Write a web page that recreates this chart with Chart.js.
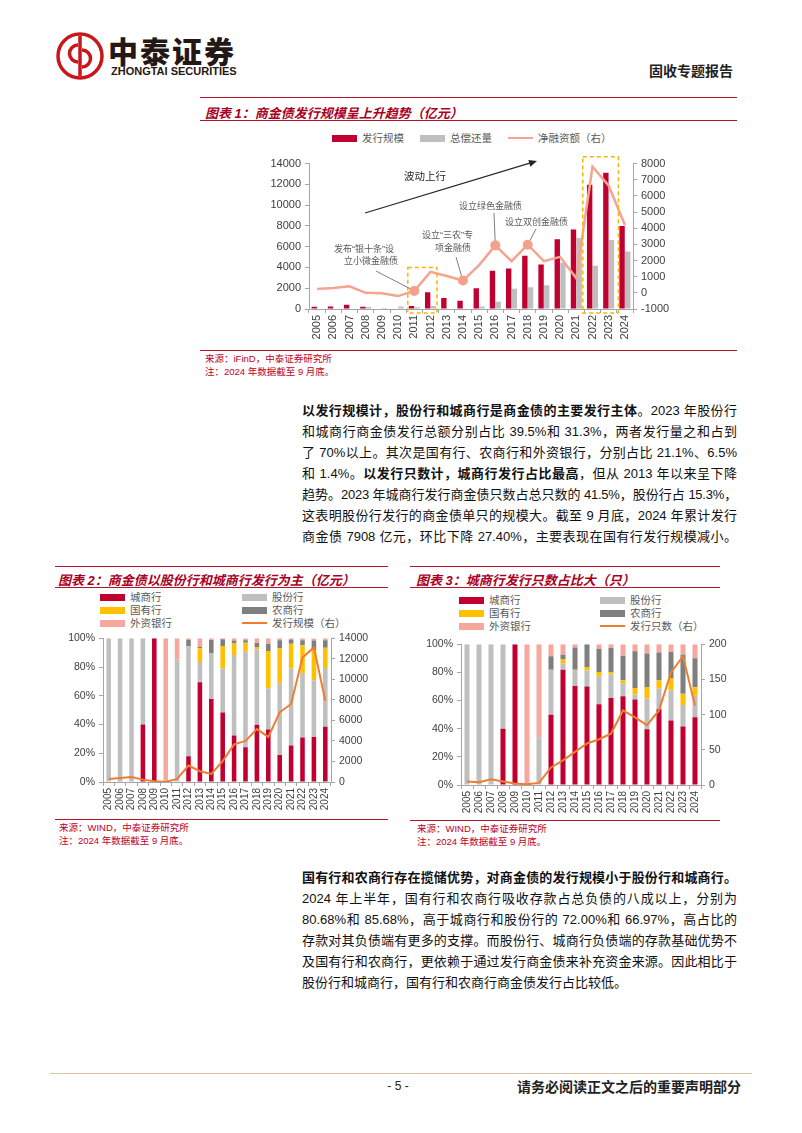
<!DOCTYPE html>
<html>
<head>
<meta charset="utf-8">
<script src="https://cdn.jsdelivr.net/npm/chart.js@4.4.1/dist/chart.umd.min.js"></script>
<style>
  body { margin: 0; background: #fff; }
  #page { position: relative; width: 802px; height: 1133px; overflow: hidden; background: #fff;
          font-family: "Liberation Sans", "Noto Sans CJK SC", sans-serif; color: #111; }
  .rule { position: absolute; height: 0; border-top: 1.5px solid #B4152B; }
  .ttl { position: absolute; font-size: 13px; font-weight: bold; font-style: italic; color: #A8001E;
         white-space: nowrap; font-family: "Liberation Sans", "Noto Sans CJK SC", sans-serif; }
  .src { position: absolute; font-size: 9.5px; line-height: 13px; color: #C0001C; white-space: nowrap; }
  .leg { position: absolute; font-size: 10.5px; line-height: 13px; color: #595959; white-space: nowrap; }
  .leg i { display: inline-block; width: 25px; height: 7px; vertical-align: middle; margin-right: 5px; margin-top: -2px; }
  .leg i.ln { height: 2.5px; }
  .note { position: absolute; font-size: 9px; line-height: 12px; color: #595959; white-space: nowrap; }
  .para { position: absolute; left: 302px; width: 435px; font-size: 13px; line-height: 21px; color: #111; }
  .para div { text-align: justify; text-align-last: justify; }
  .para div.last { text-align-last: left; }
  .para div.tight { letter-spacing: -0.25px; }
  .para b { font-weight: 700; }
  canvas { position: absolute; }
</style>
</head>
<body>
<div id="page">

  <!-- header -->
  <svg style="position:absolute;left:55px;top:31px" width="50" height="50" viewBox="0 0 50 50">
    <circle cx="25" cy="25" r="22" fill="none" stroke="#C8161D" stroke-width="3.5"/>
    <path d="M25 5 V45" stroke="#C8161D" stroke-width="3.5"/>
    <path d="M23 14 A8.5 8.5 0 1 0 23 31" fill="none" stroke="#C8161D" stroke-width="3.5"/>
    <path d="M27 19 A8.5 8.5 0 1 1 27 36" fill="none" stroke="#C8161D" stroke-width="3.5"/>
  </svg>
  <div style="position:absolute;left:108px;top:33px;font-size:30px;line-height:34px;font-weight:900;letter-spacing:2px;color:#231815;font-family:'Noto Sans CJK SC'">中泰证券</div>
  <div style="position:absolute;left:111px;top:65px;font-size:11px;line-height:12px;font-weight:bold;color:#231815;font-family:'Liberation Sans Narrow','Liberation Sans';white-space:nowrap">ZHONGTAI SECURITIES</div>
  <div style="position:absolute;left:649px;top:61px;font-size:14px;line-height:18px;font-weight:bold;color:#222;font-family:'Noto Sans CJK SC'">固收专题报告</div>

  <!-- chart 1 -->
  <div class="rule" style="left:200px;top:97px;width:537px"></div>
  <div class="ttl" style="left:205px;top:103px">图表 1：商金债发行规模呈上升趋势（亿元）</div>
  <div class="rule" style="left:200px;top:120px;width:537px;border-top-width:1px"></div>
  <div class="leg" style="left:332px;top:132px"><i style="background:#C00030"></i>发行规模</div>
  <div class="leg" style="left:420px;top:132px"><i style="background:#BFBFBF"></i>总偿还量</div>
  <div class="leg" style="left:508px;top:132px"><i class="ln" style="background:#F4A491"></i>净融资额（右）</div>
  <canvas id="c1" width="423" height="188" style="left:250px;top:153px;width:423px;height:188px"></canvas>
  <div class="note" style="left:404px;top:170px;font-size:10.5px;color:#262626">波动上行</div>
  <div class="note" style="left:334px;top:243px">发布“银十条”设</div>
  <div class="note" style="left:344px;top:255px">立小微金融债</div>
  <div class="note" style="left:422px;top:229px">设立“三农”专</div>
  <div class="note" style="left:435px;top:242px">项金融债</div>
  <div class="note" style="left:459px;top:200px">设立绿色金融债</div>
  <div class="note" style="left:505px;top:216px">设立双创金融债</div>
  <div class="rule" style="left:200px;top:350px;width:537px;border-top-width:1px"></div>
  <div class="src" style="left:205px;top:352px">来源：iFinD，中泰证券研究所</div>
  <div class="src" style="left:205px;top:365px">注：2024 年数据截至 9 月底。</div>

  <div class="para" style="top:400px">
    <div><b>以发行规模计，股份行和城商行是商金债的主要发行主体</b>。2023 年股份行</div>
    <div>和城商行商金债发行总额分别占比 39.5%和 31.3%，两者发行量之和占到</div>
    <div>了 70%以上。其次是国有行、农商行和外资银行，分别占比 21.1%、6.5%</div>
    <div>和 1.4%。<b>以发行只数计，城商行发行占比最高</b>，但从 2013 年以来呈下降</div>
    <div class="tight">趋势。2023 年城商行发行商金债只数占总只数的 41.5%，股份行占 15.3%，</div>
    <div>这表明股份行发行的商金债单只的规模大。截至 9 月底，2024 年累计发行</div>
    <div>商金债 7908 亿元，环比下降 27.40%，主要表现在国有行发行规模减小。</div>
  </div>

  <!-- chart 2 -->
  <div class="rule" style="left:55px;top:566px;width:333px"></div>
  <div class="ttl" style="left:58px;top:570px">图表 2：商金债以股份行和城商行发行为主（亿元）</div>
  <div class="rule" style="left:55px;top:587px;width:333px;border-top-width:1px"></div>
  <div class="leg" style="left:100px;top:591px"><i style="background:#C00030"></i>城商行</div>
  <div class="leg" style="left:100px;top:604px"><i style="background:#FFC000"></i>国有行</div>
  <div class="leg" style="left:100px;top:617px"><i style="background:#F6A89E"></i>外资银行</div>
  <div class="leg" style="left:242px;top:591px"><i style="background:#BFBFBF"></i>股份行</div>
  <div class="leg" style="left:242px;top:604px"><i style="background:#7F7F7F"></i>农商行</div>
  <div class="leg" style="left:242px;top:617px"><i class="ln" style="background:#ED7D31"></i>发行规模（右）</div>
  <canvas id="c2" width="318" height="184" style="left:55px;top:628px;width:318px;height:184px"></canvas>
  <div class="rule" style="left:55px;top:819px;width:333px;border-top-width:1px"></div>
  <div class="src" style="left:59px;top:821px">来源：WIND，中泰证券研究所</div>
  <div class="src" style="left:59px;top:834px">注：2024 年数据截至 9 月底。</div>

  <!-- chart 3 -->
  <div class="rule" style="left:410px;top:566px;width:310px"></div>
  <div class="ttl" style="left:416px;top:570px">图表 3：城商行发行只数占比大（只）</div>
  <div class="rule" style="left:410px;top:587px;width:310px;border-top-width:1px"></div>
  <div class="leg" style="left:459px;top:594px"><i style="background:#C00030"></i>城商行</div>
  <div class="leg" style="left:459px;top:607px"><i style="background:#FFC000"></i>国有行</div>
  <div class="leg" style="left:459px;top:620px"><i style="background:#F6A89E"></i>外资银行</div>
  <div class="leg" style="left:600px;top:594px"><i style="background:#BFBFBF"></i>股份行</div>
  <div class="leg" style="left:600px;top:607px"><i style="background:#7F7F7F"></i>农商行</div>
  <div class="leg" style="left:600px;top:620px"><i class="ln" style="background:#ED7D31"></i>发行只数（右）</div>
  <canvas id="c3" width="318" height="181" style="left:418px;top:634px;width:318px;height:181px"></canvas>
  <div class="rule" style="left:410px;top:820px;width:310px;border-top-width:1px"></div>
  <div class="src" style="left:417px;top:822px">来源：WIND，中泰证券研究所</div>
  <div class="src" style="left:417px;top:835px">注：2024 年数据截至 9 月底。</div>

  <div class="para" style="top:867px">
    <div><b>国有行和农商行存在揽储优势，对商金债的发行规模小于股份行和城商行。</b></div>
    <div>2024 年上半年，国有行和农商行吸收存款占总负债的八成以上，分别为</div>
    <div>80.68%和 85.68%，高于城商行和股份行的 72.00%和 66.97%，高占比的</div>
    <div>存款对其负债端有更多的支撑。而股份行、城商行负债端的存款基础优势不</div>
    <div>及国有行和农商行，更依赖于通过发行商金债来补充资金来源。因此相比于</div>
    <div class="last">股份行和城商行，国有行和农商行商金债发行占比较低。</div>
  </div>

  <!-- footer -->
  <div style="position:absolute;left:50px;top:1073px;width:702px;height:0;border-top:1.5px solid #D9C4A6"></div>
  <div style="position:absolute;left:380px;top:1078px;width:36px;text-align:center;font-size:12px;line-height:16px;color:#222">- 5 -</div>
  <div style="position:absolute;left:517px;top:1077px;font-size:14px;line-height:18px;font-weight:bold;color:#222;font-family:'Noto Sans CJK SC';white-space:nowrap">请务必阅读正文之后的重要声明部分</div>
</div>

<script>
// years on the x axis (all three charts)
const years = ['2005','2006','2007','2008','2009','2010','2011','2012','2013','2014',
               '2015','2016','2017','2018','2019','2020','2021','2022','2023','2024'];

// chart 1: issuance, repayment (left, 亿元) and net financing (right)
const issueAmt  = [220, 250, 410, 220, 60, 50, 290, 1620, 1050, 800, 2000, 3690, 3910, 5120, 4290, 6710, 7660, 11960, 13130, 8000];
const repayAmt  = [0, 0, 0, 200, 90, 250, 170, 300, 40, 40, 250, 700, 1940, 2100, 2290, 4450, 6840, 4170, 6650, 5530];
const netAmt    = [245, 300, 410, 0, -30, -200, 120, 1300, 1040, 760, 1720, 2940, 1960, 2980, 1960, 2230, 900, 7810, 6630, 4200];
const markYears = ['2011', '2014', '2016', '2018'];
const noteYears = ['2011', '2014', '2016', '2018'];

// chart 2: share of issuance amount by bank type (%), issuance amount (right)
const amtCity    = [0, 0, 0, 40, 100, 0, 0, 18, 69.5, 57.8, 48.4, 32.4, 24.2, 39.9, 36.6, 18.8, 25.4, 31, 31.3, 38.5];
const amtJoint   = [100, 100, 100, 60, 0, 0, 85, 76.5, 14, 31.7, 30.5, 55.9, 66.4, 52.4, 28.7, 50, 53.5, 44.8, 39.5, 40.8];
const amtState   = [0, 0, 0, 0, 0, 0, 0, 0, 9.5, 0, 15.7, 8.4, 6.3, 1.6, 25.8, 24.2, 17.3, 19.3, 21.1, 14.1];
const amtRural   = [0, 0, 0, 0, 0, 0, 0, 4.5, 1, 9.3, 4.7, 1.7, 1.7, 2.8, 5.1, 5.6, 2.9, 3.5, 6.5, 5.2];
const amtForeign = [0, 0, 0, 0, 0, 100, 15, 1, 6, 1.2, 0.7, 1.6, 1.4, 3.3, 3.8, 1.4, 0.9, 1.4, 1.4, 1.4];
const amtTotal   = [300, 390, 490, 230, 70, 10, 300, 1600, 1050, 790, 2030, 3670, 4000, 5150, 4390, 6790, 7600, 12130, 13110, 7908];

// chart 3: share of issuance count by bank type (%), issuance count (right)
const cntCity    = [0, 0, 0, 40, 100, 0, 0, 50, 82, 70.3, 70, 57.4, 61.9, 63.1, 60.8, 39.7, 53.9, 45.9, 41.5, 48.2];
const cntJoint   = [100, 100, 100, 60, 0, 0, 34, 32, 4.5, 11.7, 11.3, 19.9, 16.6, 9, 3.5, 21.8, 14.7, 21.5, 15.3, 15.3];
const cntState   = [0, 0, 0, 0, 0, 0, 0, 0, 3, 0, 2.6, 3.1, 1.9, 2.4, 4.7, 8.2, 5.9, 8.3, 8, 5.9];
const cntRural   = [0, 0, 0, 0, 0, 0, 0, 9.5, 3, 15.8, 16.1, 16.5, 17, 17.2, 26, 23.7, 19.6, 18.9, 27.8, 20.7];
const cntForeign = [0, 0, 0, 0, 0, 100, 66, 8.5, 7.5, 2.2, 0, 3.1, 2.6, 8.3, 5, 6.6, 5.9, 5.4, 7.4, 9.9];
const cntTotal   = [5, 4, 8, 5, 2, 1, 3, 25, 35, 47, 59, 65, 73, 106, 96, 85, 106, 160, 183, 113];

const FONT = "'Liberation Sans', Arial, sans-serif";
const AXIS = '#A6A6A6';

function xAxis(size, h) {
  return {
    stacked: true,
    grid: { display: true, drawOnChartArea: false, tickLength: 4, color: AXIS, offset: true },
    border: { color: AXIS },
    ticks: { minRotation: 90, maxRotation: 90, autoSkip: false, padding: 2, color: '#404040', font: { family: FONT, size: size } },
    afterFit: s => { s.height = h; }
  };
}
function yAxis(pos, min, max, step, w, fmt, size) {
  return {
    position: pos, min: min, max: max,
    grid: { display: true, drawOnChartArea: false, tickLength: 4, color: AXIS },
    border: { color: AXIS },
    ticks: { stepSize: step, autoSkip: false, padding: 4, color: '#404040', font: { family: FONT, size: size }, callback: fmt },
    afterFit: s => { s.width = w; }
  };
}
const plain = v => String(v);
const pct = v => v + '%';

// chart 1 decorations: dashed boxes, leader lines, trend arrow
const C1_LEFT = 250, C1_TOP = 153;
const boxes = [ { from: '2011', to: '2012', pad: 0.4, top: 4000 }, { from: '2022', to: '2023', pad: 0.6, top: 14650 } ];
const leaderStart = { '2011': [376, 271], '2014': [456, 257], '2016': [494, 213], '2018': [536, 229] };

const c1Notes = {
  id: 'c1Notes',
  afterDatasetsDraw(chart) {
    const ctx = chart.ctx, x = chart.scales.x, y = chart.scales.y;
    const w = x.getPixelForValue(1) - x.getPixelForValue(0);
    ctx.save();
    ctx.strokeStyle = '#F2B705';
    ctx.lineWidth = 1.5;
    ctx.setLineDash([4, 3]);
    boxes.forEach(b => {
      const l = x.getPixelForValue(years.indexOf(b.from)) - w * b.pad;
      const r = x.getPixelForValue(years.indexOf(b.to)) + w * b.pad;
      const t = y.getPixelForValue(b.top);
      const btm = chart.chartArea.bottom + 4;
      ctx.strokeRect(l, t, r - l, btm - t);
    });
    ctx.setLineDash([]);

    // leader lines to the marked points of the net financing line
    const pts = chart.getDatasetMeta(0).data;
    ctx.strokeStyle = '#7F7F7F';
    ctx.lineWidth = 1;
    noteYears.forEach(yr => {
      const p = pts[years.indexOf(yr)];
      const s = leaderStart[yr];
      const sx = s[0] - C1_LEFT, sy = s[1] - C1_TOP;
      const d = Math.hypot(p.x - sx, p.y - sy);
      ctx.beginPath();
      ctx.moveTo(sx, sy);
      ctx.lineTo(p.x - (p.x - sx) / d * 5, p.y - (p.y - sy) / d * 5);
      ctx.stroke();
    });

    // trend arrow "波动上行"
    const ax = 365 - C1_LEFT, ay = 213 - C1_TOP, bx = 537 - C1_LEFT, by = 161 - C1_TOP;
    const ang = Math.atan2(by - ay, bx - ax);
    ctx.strokeStyle = '#262626';
    ctx.fillStyle = '#262626';
    ctx.lineWidth = 1.2;
    ctx.beginPath();
    ctx.moveTo(ax, ay);
    ctx.lineTo(bx - 5 * Math.cos(ang), by - 5 * Math.sin(ang));
    ctx.stroke();
    ctx.beginPath();
    ctx.moveTo(bx, by);
    ctx.lineTo(bx - 8 * Math.cos(ang) + 3.5 * Math.sin(ang), by - 8 * Math.sin(ang) - 3.5 * Math.cos(ang));
    ctx.lineTo(bx - 8 * Math.cos(ang) - 3.5 * Math.sin(ang), by - 8 * Math.sin(ang) + 3.5 * Math.cos(ang));
    ctx.closePath();
    ctx.fill();
    ctx.restore();
  }
};

const common = {
  responsive: false,
  animation: false,
  devicePixelRatio: 1,
  layout: { padding: { top: 10, left: 0, right: 0, bottom: 0 } },
  plugins: { legend: { display: false }, tooltip: { enabled: false } }
};

// chart 1
const x1 = xAxis(11, 32);
x1.stacked = false;
new Chart(document.getElementById('c1'), {
  type: 'bar',
  data: {
    labels: years,
    datasets: [
      { type: 'line', label: '净融资额（右）', data: netAmt, yAxisID: 'y1', order: 0,
        borderColor: '#F4A491', borderWidth: 2.5, tension: 0,
        pointRadius: years.map(y => markYears.includes(y) ? 5 : 0),
        pointBackgroundColor: '#F3A08C', pointBorderWidth: 0 },
      { label: '发行规模', data: issueAmt, yAxisID: 'y', order: 1, backgroundColor: '#C00030',
        categoryPercentage: 0.7, barPercentage: 0.95 },
      { label: '总偿还量', data: repayAmt, yAxisID: 'y', order: 1, backgroundColor: '#BFBFBF',
        categoryPercentage: 0.7, barPercentage: 0.95 }
    ]
  },
  options: Object.assign({}, common, {
    scales: {
      x: x1,
      y: yAxis('left', 0, 14000, 2000, 59, plain, 11),
      y1: yAxis('right', -1000, 8000, 1000, 40, plain, 11)
    }
  }),
  plugins: [c1Notes]
});

// stacked share charts
function shareChart(id, parts, total, totalLabel, rightMax, rightStep, leftW, rightW, barPct) {
  const colors = ['#C00030', '#BFBFBF', '#FFC000', '#7F7F7F', '#F6A89E'];
  const names = ['城商行', '股份行', '国有行', '农商行', '外资银行'];
  const sets = parts.map((d, i) => ({
    label: names[i], data: d, yAxisID: 'y', order: 1, backgroundColor: colors[i],
    categoryPercentage: 1, barPercentage: barPct, stack: 's'
  }));
  sets.push({ type: 'line', label: totalLabel, data: total, yAxisID: 'y1', order: 0,
              borderColor: '#ED7D31', borderWidth: 2, pointRadius: 0, tension: 0 });
  const y = yAxis('left', 0, 100, 20, leftW, pct, 10.5);
  y.stacked = true;
  new Chart(document.getElementById(id), {
    type: 'bar',
    data: { labels: years, datasets: sets },
    options: Object.assign({}, common, {
      scales: {
        x: xAxis(10, 30),
        y: y,
        y1: yAxis('right', 0, rightMax, rightStep, rightW, plain, 10.5)
      }
    })
  });
}

shareChart('c2', [amtCity, amtJoint, amtState, amtRural, amtForeign], amtTotal, '发行规模（右）', 14000, 2000, 48, 42, 0.4);
shareChart('c3', [cntCity, cntJoint, cntState, cntRural, cntForeign], cntTotal, '发行只数（右）', 200, 50, 43, 35, 0.42);
</script>
</body>
</html>
